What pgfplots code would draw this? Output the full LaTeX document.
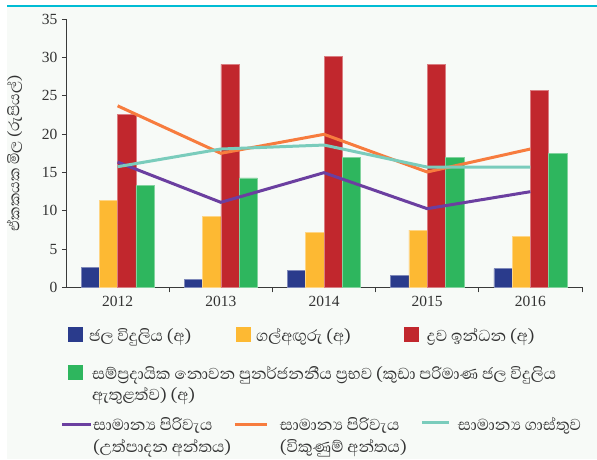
\documentclass[border=0pt]{standalone}
\usepackage{fontspec}
\setmainfont{Liberation Serif}
\newfontfamily\sinhala[Script=Sinhala]{Abhaya Libre}
\usepackage{pgfplots}
\pgfplotsset{compat=1.18}
\definecolor{cblue}{HTML}{2A3B8C}
\definecolor{cyellow}{HTML}{FDB933}
\definecolor{cred}{HTML}{C1272D}
\definecolor{cgreen}{HTML}{2EB65E}
\definecolor{cpurple}{HTML}{6B3FA0}
\definecolor{corange}{HTML}{F77C3E}
\definecolor{cteal}{HTML}{7ACCBC}
\definecolor{bgc}{HTML}{F7FAF7}
\definecolor{topline}{HTML}{00BCD4}
\definecolor{axisgray}{HTML}{3A3A3A}
\definecolor{textgray}{HTML}{333333}
\newcommand{\sfs}{\fontsize{20.3}{21.5}\selectfont}
\begin{document}
\begin{tikzpicture}[x=1pt,y=1pt]
\path[use as bounding box] (0,0) rectangle (597,-459);
\fill[white] (0,0) rectangle (597,-459);
\fill[bgc] (7,-6) rectangle (597,-459);
\draw[topline, line width=2pt] (7,-6) -- (597,-6);
\begin{axis}[
  at={(66pt,-287.3pt)}, anchor=south west,
  scale only axis, width=516pt, height=268pt,
  xmin=-0.5, xmax=4.5, ymin=0, ymax=35,
  axis x line*=bottom, axis y line*=left,
  axis line style={draw=axisgray, line width=0.9pt, -},
  xtick={0,1,2,3,4}, xticklabels={2012,2013,2014,2015,2016},
  major x tick style={draw=none},
  minor xtick={0.5,1.5,2.5,3.5,4.5},
  ytick={0,5,10,15,20,25,30,35},
  tick align=outside, major tick length=4pt, minor tick length=5pt,
  tick style={draw=axisgray, line width=0.8pt},
  xtick pos=lower, ytick pos=left,
  /pgf/number format/assume math mode=true,
  ticklabel style={font=\fontsize{15.5}{16}\selectfont, text=textgray},
  yticklabel style={xshift=-1pt},
  xticklabel style={yshift=-1pt},
  ylabel={\sinhala\fontsize{19}{20}\selectfont ඒකකයක මිල (රුපියල්)},
  ylabel style={at={(axis description cs:-0.1,0.5)}, anchor=center, text=textgray},
  legend columns=3,
  legend cell align=left,
  legend style={at={(axis description cs:0,0)}, anchor=north west,
    xshift=-4pt, yshift=-37.2pt, draw=none, fill=none,
    inner xsep=0pt, inner ysep=0pt, outer sep=0pt,
    column sep=0pt, row sep=19pt,
    /tikz/every odd column/.style={column sep=0pt},
    /tikz/every even column/.style={column sep=0pt},
    nodes={inner sep=0pt, outer sep=0pt, text height=17pt, text depth=2pt,
      anchor=west, font=\sinhala\sfs, text=textgray}},
]
\addplot[ybar, bar width=18.3pt, bar shift=-27.45pt, fill=cblue, draw=cblue!60!white, line width=0.5pt, forget plot]
  coordinates {(0,2.65) (1,1.08) (2,2.17) (3,1.6) (4,2.43)};
\addplot[ybar, bar width=18.3pt, bar shift=-9.15pt, fill=cyellow, draw=cyellow!60!white, line width=0.5pt, forget plot]
  coordinates {(0,11.4) (1,9.31) (2,7.22) (3,7.48) (4,6.66)};
\addplot[ybar, bar width=18.3pt, bar shift=9.15pt, fill=cred, draw=cred!60!white, line width=0.5pt, forget plot]
  coordinates {(0,22.6) (1,29.1) (2,30.15) (3,29.1) (4,25.75)};
\addplot[ybar, bar width=18.3pt, bar shift=27.45pt, fill=cgreen, draw=cgreen!60!white, line width=0.5pt, forget plot]
  coordinates {(0,13.27) (1,14.3) (2,16.98) (3,16.98) (4,17.5)};
\addplot[cpurple, line width=3pt, mark=none, forget plot]
  coordinates {(0,16.36) (1,11.1) (2,14.97) (3,10.27) (4,12.49)};
\addplot[corange, line width=3pt, mark=none, forget plot]
  coordinates {(0,23.7) (1,17.5) (2,19.98) (3,15.06) (4,18.06)};
\addplot[cteal, line width=3pt, mark=none, forget plot]
  coordinates {(0,15.75) (1,18.06) (2,18.58) (3,15.7) (4,15.7)};
% legend row 1
\addlegendimage{legend image code/.code={\path[draw=none,fill=none] (0pt,-9.5pt) rectangle (27pt,9.5pt); \fill[cblue,draw=none,overlay] (6pt,-7.5pt) rectangle (21pt,7.5pt);}}
\addlegendentry{\makebox[146pt][l]{ජල විදුලිය (අ)}}
\addlegendimage{legend image code/.code={\path[draw=none,fill=none] (0pt,-9.5pt) rectangle (21pt,9.5pt); \fill[cyellow,draw=none,overlay] (1pt,-7.5pt) rectangle (16pt,7.5pt);}}
\addlegendentry{\makebox[148pt][l]{ගල්අඟුරු (අ)}}
\addlegendimage{legend image code/.code={\path[draw=none,fill=none] (0pt,-9.5pt) rectangle (23pt,9.5pt); \fill[cred,draw=none,overlay] (0pt,-7.5pt) rectangle (15pt,7.5pt);}}
\addlegendentry{\makebox[160pt][l]{ද්‍රව ඉන්ධන (අ)}}
% legend row 2
\addlegendimage{legend image code/.code={\path[draw=none,fill=none] (0pt,-9.5pt) rectangle (27pt,9.5pt); \fill[cgreen,draw=none,overlay] (6pt,-7.5pt) rectangle (21pt,7.5pt);}}
\addlegendentry{\makebox[146pt][l]{\hspace{3pt}\rlap{\fontsize{20.3}{20.5}\selectfont\begin{tabular}[t]{@{}l@{}}සම්ප්‍රදායික නොවන පුනර්ජනනීය ප්‍රභව (කුඩා පරිමාණ ජල විදුලිය\\ඇතුළත්ව) (අ)\end{tabular}}}}
\addlegendimage{legend image code/.code={\path[draw=none,fill=none] (0pt,-9.5pt) rectangle (21pt,9.5pt);}}
\addlegendentry{\makebox[148pt][l]{}}
\addlegendimage{legend image code/.code={\path[draw=none,fill=none] (0pt,-9.5pt) rectangle (23pt,9.5pt);}}
\addlegendentry{\makebox[160pt][l]{}}
% legend row 3
\addlegendimage{legend image code/.code={\path[draw=none,fill=none] (0pt,-9.5pt) rectangle (27pt,22.5pt); \draw[cpurple,line width=3pt,overlay] (0pt,-1pt) -- (29pt,-1pt);}}
\addlegendentry{\makebox[146pt][l]{\hspace{4pt}\begin{tabular}[t]{@{}l@{}}සාමාන්‍ය පිරිවැය\\(උත්පාදන අන්තය)\end{tabular}}}
\addlegendimage{legend image code/.code={\path[draw=none,fill=none] (0pt,-9.5pt) rectangle (21pt,22.5pt); \draw[corange,line width=3pt,overlay] (0pt,-1pt) -- (32pt,-1pt);}}
\addlegendentry{\makebox[148pt][l]{\hspace{24pt}\begin{tabular}[t]{@{}l@{}}සාමාන්‍ය පිරිවැය\\(විකුණුම් අන්තය)\end{tabular}}}
\addlegendimage{legend image code/.code={\path[draw=none,fill=none] (0pt,-9.5pt) rectangle (23pt,22.5pt); \draw[cteal,line width=3pt,overlay] (18pt,1pt) -- (45pt,1pt);}}
\addlegendentry{\makebox[160pt][l]{\hspace{31pt}සාමාන්‍ය ගාස්තුව}}
\end{axis}
\end{tikzpicture}
\end{document}
